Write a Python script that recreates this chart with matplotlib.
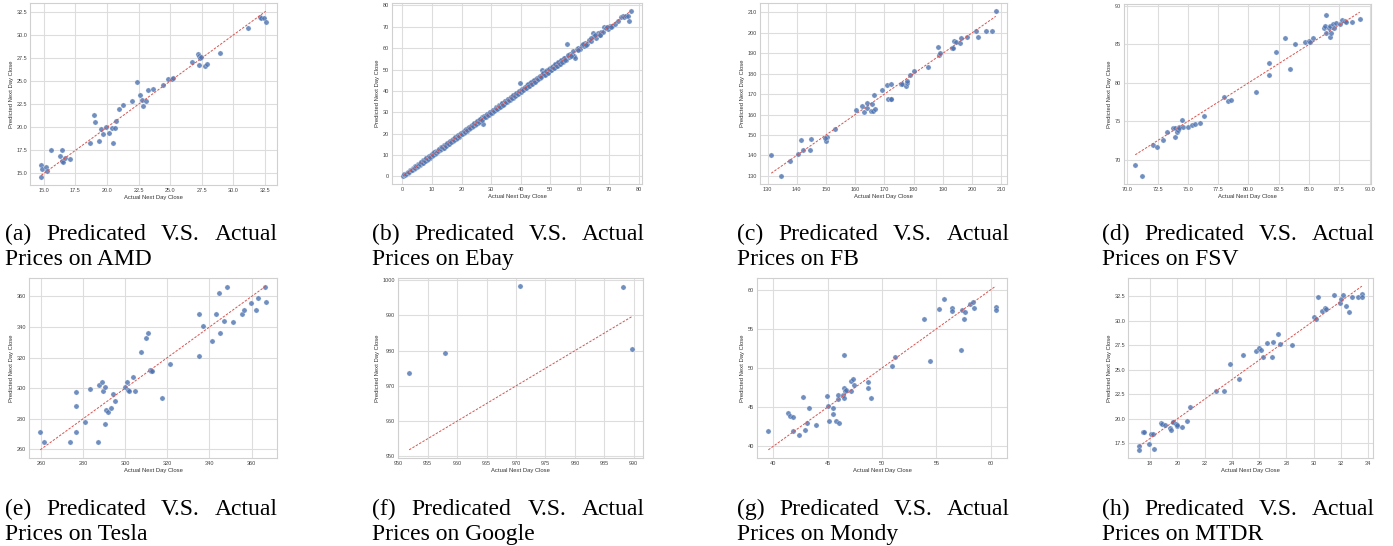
import matplotlib
matplotlib.use("Agg")
from matplotlib import pyplot as plt
from matplotlib.ticker import MultipleLocator
import seaborn as sns

# --- data (actual next-day close, predicted next-day close) ---
amd_actual = [14.79, 14.79, 14.89, 15.16, 15.21, 15.56, 16.25, 16.44, 16.46, 16.54, 16.65, 17.05,
              18.67, 18.94, 19.04, 19.34, 19.55, 19.65, 19.92, 20.16, 20.43, 20.51, 20.64, 20.69,
              20.96, 21.25, 22.02, 22.37, 22.61, 22.77, 22.87, 23.06, 23.24, 23.62, 24.44, 24.81,
              25.13, 25.24, 26.76, 27.18, 27.31, 27.37, 27.42, 27.31, 27.79, 27.93, 28.94, 31.14,
              32.10, 32.18, 32.42, 32.58]
amd_pred = [14.64, 15.90, 15.43, 15.65, 15.25, 17.54, 16.85, 17.50, 16.38, 16.20, 16.70, 16.60,
            18.33, 21.30, 20.58, 18.51, 19.86, 19.31, 20.04, 19.38, 19.89, 18.26, 19.96, 20.69,
            22.03, 22.43, 22.83, 24.96, 23.55, 22.97, 22.28, 22.83, 24.06, 24.20, 24.57, 25.29,
            25.22, 25.36, 27.10, 27.93, 27.75, 27.50, 27.61, 26.78, 26.67, 26.81, 28.04, 30.76,
            31.96, 31.85, 31.85, 31.38]

ebay_actual = [0.3, 0.9, 1.5, 2.0, 2.6, 3.1, 3.5, 4.0, 4.4, 4.9, 5.3, 5.8, 6.2, 6.6, 7.0, 7.5,
               7.9, 8.3, 8.8, 9.2, 9.6, 10.1, 10.5, 10.9, 11.4, 11.8, 12.3, 12.7, 13.2, 13.6, 14.1,
               14.5, 15.0, 15.4, 15.9, 16.3, 16.8, 17.2, 17.7, 18.1, 18.6, 19.0, 19.5, 20.0, 20.4,
               20.9, 21.3, 21.8, 22.3, 22.7, 23.2, 23.7, 24.1, 24.6, 25.1, 25.5, 26.0, 26.5, 27.0,
               27.4, 27.8, 28.3, 28.8, 29.3, 29.8, 30.3, 30.8, 31.3, 31.8, 32.3, 32.8, 33.3, 33.8,
               34.3, 34.8, 35.3, 35.8, 36.3, 36.8, 37.3, 37.8, 38.3, 38.8, 39.3, 39.7, 40.2, 40.7,
               41.2, 41.7, 42.2, 42.7, 43.2, 43.7, 44.2, 44.7, 45.2, 45.7, 46.2, 46.7, 47.2, 47.4,
               47.9, 48.4, 48.9, 49.4, 49.9, 50.4, 50.9, 51.4, 51.9, 52.4, 52.9, 53.4, 53.9, 54.4,
               54.9, 55.4, 55.9, 56.4, 56.9, 57.4, 57.9, 58.2, 58.5, 59.0, 59.6, 60.2, 60.8, 61.4,
               62.0, 62.6, 63.2, 63.8, 64.4, 65.0, 65.6, 66.2, 66.8, 67.4, 68.0, 68.4, 69.0, 69.6,
               70.2, 71.0, 72.0, 73.0, 74.0, 74.6, 75.2, 75.8, 76.4, 76.9, 77.3,
               0.6, 1.2, 1.8, 2.3, 2.8, 3.3, 3.8, 4.2, 4.7, 5.1, 5.6, 6.0, 6.4, 6.8, 7.3, 7.7,
               8.1, 8.6, 9.0, 9.4, 9.9, 10.3, 10.7, 11.2, 11.6, 12.1, 12.5, 13.0, 13.4, 13.9,
               14.3, 14.8, 15.2, 15.7, 16.1, 16.6, 17.0, 17.5, 17.9, 18.4, 18.8, 19.3, 19.8,
               20.2, 20.7, 21.1, 21.6, 22.0, 22.5, 23.0, 23.5, 23.9, 24.4, 24.9, 25.3, 25.8,
               26.3, 26.8, 27.6, 28.1, 28.6, 29.1, 29.6, 30.1, 30.6, 31.1, 31.6, 32.1, 32.6,
               33.1, 33.6, 34.1, 34.6, 35.1, 35.6, 36.1, 36.6, 37.1, 37.6, 38.1, 38.6, 39.1,
               39.5, 40.0, 40.5, 41.0, 41.5, 42.0, 42.5, 43.0, 43.5, 44.0, 44.5, 45.0, 45.5,
               46.0, 46.5, 47.0, 47.7, 48.2, 48.7, 49.2, 49.7, 50.2, 50.7, 51.2, 51.7, 52.2,
               52.7, 53.2, 53.7, 54.2, 54.7, 55.2, 56.2, 57.2, 59.3, 61.0, 62.3, 64.0, 65.3,
               67.0, 69.3, 70.8]
ebay_pred = [0.4, 0.7, 1.8, 1.7, 2.9, 2.8, 3.9, 3.6, 4.8, 4.5, 5.7, 5.3, 6.6, 6.1, 7.6, 7.1,
             8.4, 7.8, 9.2, 8.8, 10.2, 9.7, 11.1, 10.5, 11.9, 11.3, 12.8, 12.3, 13.6, 13.1, 14.5,
             14.1, 15.4, 15.0, 16.3, 15.9, 17.2, 16.8, 18.1, 17.7, 18.9, 18.6, 19.8, 19.7, 20.8,
             20.5, 21.7, 21.4, 22.7, 22.3, 23.6, 23.3, 24.5, 24.1, 25.6, 25.0, 26.5, 26.0, 27.9,
             24.3, 28.3, 27.9, 29.2, 28.9, 30.3, 29.9, 31.2, 30.9, 32.3, 31.8, 33.4, 32.8, 34.5,
             33.8, 35.4, 34.8, 36.4, 35.9, 37.3, 36.9, 38.2, 37.9, 39.2, 38.9, 43.7, 40.5, 40.3,
             41.6, 41.2, 42.7, 42.2, 43.8, 43.1, 44.8, 44.1, 45.7, 45.2, 46.6, 46.2, 47.6, 49.8,
             48.9, 48.0, 49.6, 48.9, 50.5, 49.8, 51.6, 50.8, 52.6, 51.8, 53.6, 52.7, 54.7, 53.6,
             55.5, 54.7, 61.9, 55.8, 57.4, 56.6, 58.5, 56.2, 55.3, 59.6, 60.3, 59.7, 61.5, 60.9,
             62.5, 62.0, 63.9, 63.2, 66.9, 65.6, 65.0, 66.9, 66.2, 67.8, 67.4, 70.0, 69.5, 68.9,
             70.3, 70.2, 71.4, 72.5, 74.8, 75.0, 74.6, 75.0, 75.2, 72.5, 77.2,
             0.9, 1.0, 2.1, 2.2, 3.2, 3.1, 4.1, 4.0, 5.1, 4.8, 6.0, 5.6, 6.9, 6.5, 7.8, 7.3,
             8.6, 8.2, 9.5, 9.1, 10.4, 9.9, 11.3, 10.8, 12.1, 11.7, 12.9, 12.6, 13.9, 13.5,
             14.7, 14.4, 15.7, 15.3, 16.5, 16.2, 17.4, 17.1, 18.3, 18.0, 19.2, 18.9, 20.2,
             19.9, 21.1, 20.8, 22.0, 21.7, 22.9, 22.6, 23.9, 23.5, 24.8, 24.4, 25.8, 25.3,
             26.8, 26.3, 28.1, 27.7, 29.1, 28.7, 30.1, 29.7, 31.1, 30.7, 32.1, 31.6, 33.1,
             32.6, 34.2, 33.6, 35.1, 34.6, 36.2, 35.6, 37.1, 36.6, 38.1, 37.6, 39.1, 38.6,
             40.0, 39.6, 41.0, 40.5, 42.0, 41.5, 43.1, 42.4, 44.1, 43.4, 45.1, 44.4, 46.0,
             45.5, 47.0, 46.5, 48.3, 47.6, 49.4, 48.6, 50.4, 49.6, 51.4, 50.6, 52.4, 51.5,
             53.4, 52.5, 54.5, 53.4, 55.4, 54.4, 56.9, 56.4, 59.1, 61.8, 61.7, 64.6, 66.2,
             66.4, 69.8, 70.1]

fb_actual = [131.25, 134.7, 137.75, 140.4, 141.3, 142.0, 144.4, 144.8, 149.95, 150.2, 149.8,
             153.1, 160.3, 162.3, 162.95, 163.9, 164.0, 165.35, 165.6, 166.0, 166.3, 166.9,
             169.1, 170.9, 171.2, 172.1, 172.4, 172.4, 175.6, 175.95, 177.5, 177.7, 177.8,
             178.8, 179.95, 184.85, 188.2, 188.5, 189.0, 193.05, 193.5, 193.95, 194.4, 195.9,
             196.25, 198.3, 201.5, 201.95, 204.7, 206.85, 208.1]
fb_pred = [140.3, 130.0, 137.3, 140.9, 147.5, 142.6, 142.6, 148.1, 147.0, 149.1, 148.6,
           152.8, 162.1, 164.4, 161.3, 163.3, 165.7, 161.8, 165.4, 161.8, 169.5, 162.6,
           171.8, 174.5, 167.8, 167.5, 167.8, 174.9, 175.0, 174.9, 174.2, 175.5, 176.3,
           179.3, 181.4, 183.5, 193.1, 189.4, 190.2, 192.8, 192.8, 195.9, 195.7, 195.1,
           197.4, 198.0, 200.8, 197.9, 200.8, 201.1, 210.6]

fsv_actual = [70.66, 71.21, 72.12, 72.45, 72.91, 73.27, 73.74, 73.90, 73.98, 74.07, 74.10, 74.15,
              74.29, 74.31, 74.50, 74.64, 75.05, 75.36, 75.63, 76.04, 76.35, 78.02, 78.35, 78.57,
              80.66, 81.68, 81.68, 82.23, 83.05, 83.41, 83.85, 84.67, 84.97, 85.05, 85.36, 86.21,
              86.35, 86.40, 86.43, 86.62, 86.70, 86.76, 86.84, 87.00, 87.09, 87.23, 87.55, 87.75,
              88.00, 88.05, 88.57, 89.18]
fsv_pred = [69.27, 67.93, 71.94, 71.69, 72.64, 73.59, 74.19, 72.98, 74.10, 73.93, 73.59, 73.85,
            74.28, 74.19, 75.23, 74.28, 74.32, 74.49, 74.62, 74.80, 75.70, 78.12, 77.60, 77.74,
            78.82, 82.53, 81.06, 84.04, 85.77, 81.75, 85.04, 85.30, 85.43, 85.30, 85.82, 87.11,
            87.33, 88.76, 86.51, 87.11, 85.90, 87.33, 86.51, 87.59, 87.11, 87.76, 87.59, 88.10,
            88.02, 87.89, 87.85, 88.24]

tesla_actual = [259.7, 261.3, 273.6, 276.6, 276.8, 276.8, 281.1, 283.5, 286.9, 287.7, 289.0,
                289.6, 290.4, 290.6, 291.1, 291.9, 293.3, 294.1, 295.2, 300.1, 301.0, 301.5,
                302.0, 303.9, 304.7, 307.4, 309.9, 310.7, 311.7, 312.1, 312.9, 317.7, 321.5,
                335.0, 335.1, 336.9, 341.0, 343.0, 344.6, 344.8, 347.0, 348.3, 351.3, 355.4,
                356.2, 359.7, 362.1, 362.9, 366.5, 366.7]
tesla_pred = [271.5, 264.5, 264.8, 297.2, 288.6, 271.5, 277.7, 299.4, 264.5, 301.8, 303.9,
              298.3, 301.1, 276.5, 285.5, 284.5, 287.3, 296.4, 291.8, 300.9, 304.2, 298.5,
              297.9, 307.4, 298.1, 323.9, 332.9, 336.0, 311.9, 311.5, 311.5, 293.8, 316.1,
              320.8, 348.5, 340.5, 331.0, 348.5, 362.4, 336.4, 344.0, 366.1, 343.1, 348.5,
              351.1, 355.9, 351.1, 358.7, 366.1, 356.1]

google_actual = [951.87, 957.95, 970.66, 988.14, 989.67]
google_pred = [973.7, 979.4, 998.3, 998.0, 980.6]

mondy_actual = [39.57, 41.35, 41.53, 41.83, 41.87, 42.35, 42.75, 42.94, 43.15, 43.30, 43.98,
                44.91, 45.06, 45.17, 45.47, 45.50, 45.75, 45.96, 45.99, 46.02, 46.42, 46.48,
                46.54, 46.54, 46.57, 46.73, 47.16, 47.16, 47.37, 47.43, 48.69, 48.69, 49.00,
                50.89, 51.22, 53.82, 54.40, 55.23, 55.66, 56.42, 56.42, 57.25, 57.31, 57.55,
                57.65, 58.07, 58.38, 58.47, 60.43, 60.43]
mondy_pred = [42.03, 44.32, 43.90, 43.73, 42.03, 41.48, 46.36, 42.16, 42.97, 44.87, 42.71,
              46.48, 45.13, 43.18, 44.15, 44.87, 43.26, 46.06, 46.53, 42.97, 46.61, 47.42,
              51.61, 46.14, 47.12, 47.16, 47.12, 48.39, 48.64, 47.84, 48.26, 47.46, 46.19,
              50.21, 51.36, 56.19, 50.93, 57.54, 58.81, 57.67, 57.29, 52.25, 57.37, 56.19,
              57.16, 58.22, 58.39, 57.67, 57.75, 57.42]

mtdr_actual = [17.19, 17.19, 17.46, 17.56, 17.88, 18.05, 18.22, 18.27, 18.76, 18.88, 19.08,
               19.47, 19.54, 19.64, 19.71, 19.93, 19.96, 19.96, 20.30, 20.71, 20.93, 22.82,
               23.41, 23.85, 24.48, 24.80, 25.78, 25.97, 26.12, 26.31, 26.58, 26.92, 27.02,
               27.39, 27.56, 28.44, 30.05, 30.15, 30.32, 30.57, 30.84, 30.91, 31.45, 31.96,
               32.03, 32.13, 32.35, 32.55, 32.84, 33.21, 33.53, 33.53]
mtdr_pred = [17.26, 16.83, 18.68, 18.64, 17.43, 18.44, 18.48, 16.93, 19.59, 19.45, 19.35,
             19.08, 18.81, 19.72, 19.72, 19.42, 19.25, 19.35, 19.15, 19.82, 21.17, 22.79,
             22.85, 25.61, 24.10, 26.49, 26.89, 27.26, 27.03, 26.35, 27.70, 26.35, 27.87,
             28.61, 27.63, 27.53, 30.43, 30.16, 32.45, 31.04, 31.34, 31.20, 32.65, 31.78,
             32.18, 32.62, 31.54, 30.90, 32.45, 32.42, 32.75, 32.38]

letters = ["a", "b", "c", "d", "e", "f", "g", "h"]
names = ["AMD", "Ebay", "FB", "FSV", "Tesla", "Google", "Mondy", "MTDR"]
x_steps = [2.5, 10, 10, 2.5, 20, 5, 5, 2]
y_steps = [2.5, 10, 10, 5, 20, 10, 5, 2.5]

series = [(amd_actual, amd_pred), (ebay_actual, ebay_pred), (fb_actual, fb_pred),
          (fsv_actual, fsv_pred), (tesla_actual, tesla_pred), (google_actual, google_pred),
          (mondy_actual, mondy_pred), (mtdr_actual, mtdr_pred)]

# axes boxes in pixels: left, top, right, bottom
boxes = [(30, 3, 277, 185), (392, 3, 642, 184), (760, 3, 1007, 184), (1124, 4, 1371, 184),
         (29, 278, 277, 458), (398, 278, 643, 458), (757, 278, 1007, 458), (1128, 278, 1373, 458)]

W, H = 1393, 546

sns.set_style("whitegrid")
plt.rcParams['font.family'] = ['Liberation Sans', 'DejaVu Sans']

fig = plt.figure(figsize=(W / 100, H / 100), dpi=100)

for i in range(8):
    l, t, r, b = boxes[i]
    ax = fig.add_axes([l / W, 1 - b / H, (r - l) / W, (b - t) / H])
    xs, ys = series[i]
    ax.scatter(xs, ys, s=14, color="#4C72B0", alpha=0.8, edgecolors="white", linewidths=0.25, zorder=3)
    lo, hi = min(xs), max(xs)
    ax.plot([lo, hi], [lo, hi], color="#d9534f", linestyle=(0, (2.5, 1.5)), lw=0.7, zorder=4)
    ax.xaxis.set_major_locator(MultipleLocator(x_steps[i]))
    ax.yaxis.set_major_locator(MultipleLocator(y_steps[i]))
    ax.tick_params(labelsize=4, pad=2, colors="#444444", length=0)
    ax.set_xlabel("Actual Next Day Close", fontsize=4.2, labelpad=1.5, color="#333333")
    ax.set_ylabel("Predicted Next Day Close", fontsize=4.2, labelpad=2, color="#333333")
    ax.grid(True, color="#dddddd", linewidth=0.8)
    for sp in ax.spines.values():
        sp.set_color("#d0d0d0")
        sp.set_linewidth(0.8)


def justified(words, x0, x1, y, size=17):
    items = [fig.text(x0 / W, 1 - y / H, w, fontsize=size, family="Liberation Serif",
                      color="black", va="baseline", ha="left") for w in words]
    rend = fig.canvas.get_renderer()
    widths = [it.get_window_extent(rend).width for it in items]
    gap = ((x1 - x0) - sum(widths)) / (len(words) - 1)
    x = x0
    for it, wd in zip(items, widths):
        it.set_x(x / W)
        x += wd + gap


cap_left = [5, 372, 737, 1102]
for i in range(8):
    row, col = divmod(i, 4)
    x0 = cap_left[col]
    y1 = 240 + row * 275
    justified(["({})".format(letters[i]), "Predicated", "V.S.", "Actual"], x0, x0 + 273, y1)
    fig.text(x0 / W, 1 - (y1 + 25) / H, "Prices on {}".format(names[i]), fontsize=17,
             family="Liberation Serif", color="black", va="baseline", ha="left")

plt.savefig("out.png", dpi=100)
